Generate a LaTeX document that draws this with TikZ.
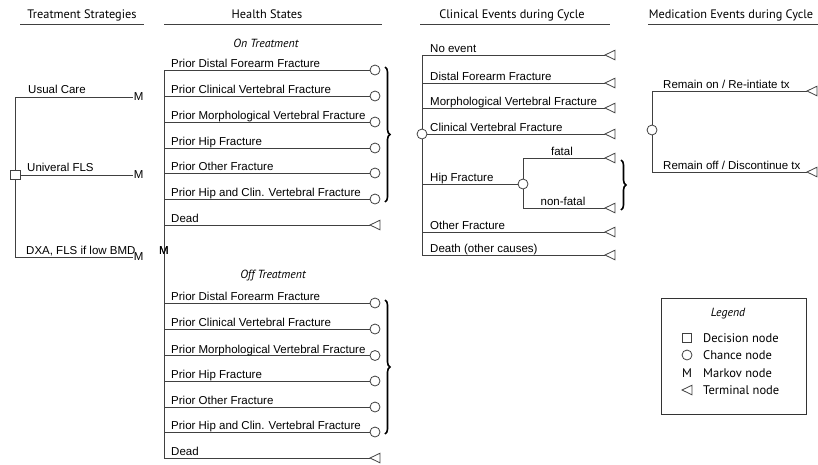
\documentclass[tikz,border=0pt]{standalone}
\usepackage{fontspec}
\setmainfont{Liberation Sans}
\newfontfamily\hdfont{PT Sans}
\usetikzlibrary{decorations.pathreplacing}
\tikzset{
  ln/.style={line width=0.8pt, draw=black!75},
  lab/.style={anchor=base west, inner sep=0pt, font=\fontsize{11.5}{13}\selectfont},
  clab/.style={anchor=base, inner sep=0pt, font=\fontsize{11.5}{13}\selectfont},
  hd/.style={anchor=base, inner sep=0pt, font=\hdfont\fontsize{12.3}{14}\selectfont},
  hdi/.style={anchor=base, inner sep=0pt, font=\hdfont\itshape\fontsize{11.8}{14}\selectfont},
  leg/.style={anchor=west, inner sep=0pt, font=\hdfont\fontsize{12.5}{14}\selectfont},
  chance/.style={circle, ln, minimum size=10pt, inner sep=0pt, fill=white},
  decision/.style={rectangle, ln, minimum size=9.5pt, inner sep=0pt, fill=white},
  markov/.style={inner sep=0.6pt, font=\fontsize{11.5}{13}\selectfont},
  br/.style={decorate, decoration={brace, amplitude=5pt}, line width=1.6pt},
  termtri/.pic={\draw[ln] (0,0) -- (10,-4.8) -- (10,4.8) -- cycle;}
}
\begin{document}
\begin{tikzpicture}[x=1pt,y=-1pt]
\useasboundingbox (0,0) rectangle (818,464);
% ---------- headers
\node[hd] (h1) at (82,18.5) {Treatment Strategies};
\node[hd] (h2) at (267,18.5) {Health States};
\node[hd] (h3) at (512,18.5) {Clinical Events during Cycle};
\node[hd] (h4) at (731,18.5) {Medication Events during Cycle};
\draw[ln] (20,24) -- (144,24);
\draw[ln] (164,24) -- (382,24);
\draw[ln] (420,24) -- (610,24);
\draw[ln] (648,24) -- (818,24);
% ---------- treatment strategies
\node[decision] (dec) at (15.5,175) {};
\node[markov, anchor=west] (mUC) at (133,97) {M};
\node[markov, anchor=west] (mFLS) at (133,175) {M};
\node[markov, anchor=west] (mDXA) at (133,257) {M};
\draw[ln] (dec.north) |- (mUC.west);
\draw[ln] (dec.east) -- (mFLS.west);
\draw[ln] (dec.south) |- (mDXA.west);
\node[lab] (lUC) at (28,93) {Usual Care};
\node[lab] (lFLS) at (27,171) {Univeral FLS};
\node[lab] (lDXA) at (26,254) {DXA, FLS if low BMD};
% ---------- health states
\node[markov] (hsM) at (164,251) {M};
\node[hdi] (onT) at (266,47) {On Treatment};
\node[hdi] (offT) at (273,278) {Off Treatment};
\foreach \i/\y/\t in {1/70/Prior Distal Forearm Fracture,
                      2/96/Prior Clinical Vertebral Fracture,
                      3/122/Prior Morphological Vertebral Fracture,
                      4/148/Prior Hip Fracture,
                      5/173/Prior Other Fracture,
                      6/199/Prior Hip and Clin. Vertebral Fracture}{
  \node[chance] (on\i) at (375,\y) {};
  \draw[ln] (hsM.center) |- (on\i.west);
  \node[lab] (lon\i) at (171,\y-2.5) {\t};
}
\coordinate (onD) at (370,225);
\pic at (onD) {termtri};
\draw[ln] (hsM.center) |- (onD);
\node[lab] (lonD) at (171,222.5) {Dead};
\foreach \i/\y/\t in {1/303/Prior Distal Forearm Fracture,
                      2/329/Prior Clinical Vertebral Fracture,
                      3/355.5/Prior Morphological Vertebral Fracture,
                      4/381/Prior Hip Fracture,
                      5/407/Prior Other Fracture,
                      6/432/Prior Hip and Clin. Vertebral Fracture}{
  \node[chance] (off\i) at (375,\y) {};
  \draw[ln] (hsM.center) |- (off\i.west);
  \node[lab] (loff\i) at (171,\y-2.5) {\t};
}
\coordinate (offD) at (370,458);
\pic at (offD) {termtri};
\draw[ln] (hsM.center) |- (offD);
\node[lab] (loffD) at (171,455.5) {Dead};
\node[markov] at (hsM) {M};
\draw[br] (385,67) -- (385,202);
\draw[br] (385,300) -- (385,434);
% ---------- clinical events
\node[chance] (ce) at (422,134) {};
\foreach \n/\y/\t in {no/55/No event, dff/83/Distal Forearm Fracture, mvf/108/Morphological Vertebral Fracture}{
  \coordinate (t\n) at (605,\y);
  \pic at (t\n) {termtri};
  \draw[ln] (ce.north) |- (t\n);
  \node[lab] (l\n) at (430,\y-2.5) {\t};
}
\coordinate (tcvf) at (605,134);
\pic at (tcvf) {termtri};
\draw[ln] (ce.east) -- (tcvf);
\node[lab] (lcvf) at (430,131.5) {Clinical Vertebral Fracture};
\node[chance] (hip) at (523,184) {};
\draw[ln] (ce.south) |- (hip.west);
\node[lab] (lhip) at (430,181.5) {Hip Fracture};
\coordinate (tfat) at (605,158);
\coordinate (tnf) at (605,208);
\pic at (tfat) {termtri};
\pic at (tnf) {termtri};
\draw[ln] (hip.north) |- (tfat);
\draw[ln] (hip.south) |- (tnf);
\node[clab] (lfat) at (562,155.5) {fatal};
\node[clab] (lnf) at (563,205.5) {non-fatal};
\draw[br] (621,160) -- (621,210);
\foreach \n/\y/\t in {oth/232/Other Fracture, dth/255/Death (other causes)}{
  \coordinate (t\n) at (605,\y);
  \pic at (t\n) {termtri};
  \draw[ln] (ce.south) |- (t\n);
  \node[lab] (l\n) at (430,\y-2.5) {\t};
}
% ---------- medication events
\node[chance] (me) at (652,130) {};
\coordinate (tron) at (807,91);
\coordinate (troff) at (807,172);
\pic at (tron) {termtri};
\pic at (troff) {termtri};
\draw[ln] (me.north) |- (tron);
\draw[ln] (me.south) |- (troff);
\node[lab] (lron) at (663,88.5) {Remain on / Re-intiate tx};
\node[lab] (lroff) at (663,169.5) {Remain off / Discontinue tx};
% ---------- legend
\node[draw=black!80, line width=0.8pt, minimum width=145pt, minimum height=116pt, inner sep=0pt] (legend) at (733.5,356) {};
\node[hdi] (legT) at (728,316) {Legend};
\node[decision] (lgD) at (687,338) {};
\node[chance] (lgC) at (687,355) {};
\node[inner sep=0pt, font=\hdfont\fontsize{12.5}{14}\selectfont] (lgM) at (687,373) {M};
\coordinate (lgT) at (682,390);
\pic at (lgT) {termtri};
\node[leg] (tD) at (703,338) {Decision node};
\node[leg] (tC) at (703,355) {Chance node};
\node[leg] (tM) at (703,373) {Markov node};
\node[leg] (tT) at (703,390) {Terminal node};
\end{tikzpicture}
\end{document}
